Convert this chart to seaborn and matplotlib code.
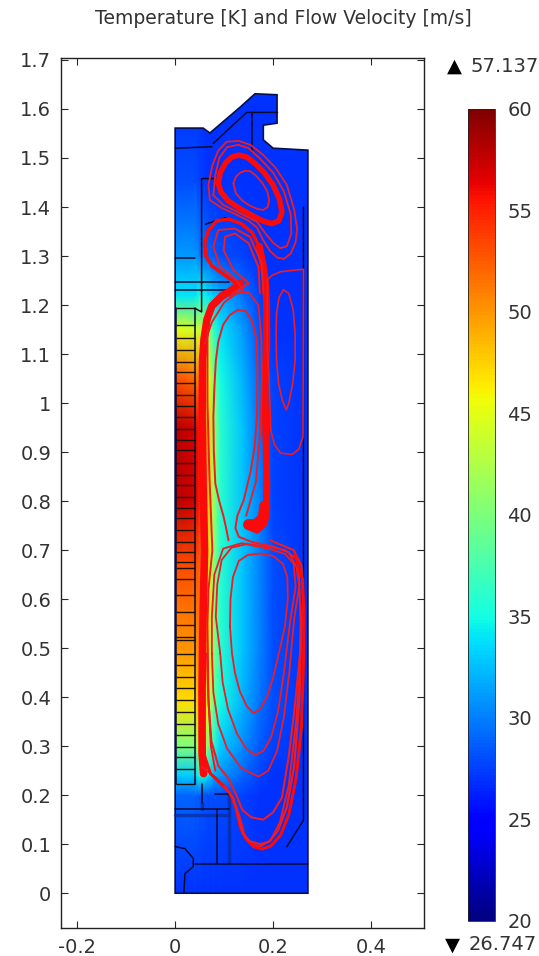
import numpy as np
import pandas as pd
import matplotlib.pyplot as plt
from matplotlib.patches import Polygon
import seaborn as sns

# === Temperature field ===
x_grid = [0, 0.041, 0.050, 0.068, 0.078, 0.092, 0.139, 0.173, 0.200, 0.272]
y_grid = [0, 0.20, 0.24, 0.30, 0.39, 0.50, 0.66, 0.80, 0.95, 1.05, 1.15, 1.22, 1.30, 1.45, 1.64]
temp_rows = [
    [27, 27, 27, 27, 27, 27, 27, 27, 27, 27],
    [29, 29, 28.5, 28, 28, 28, 27.5, 27, 27, 27],
    [33, 33, 36, 34, 32, 31, 29, 27.5, 27, 27],
    [40, 40, 44, 40, 36, 33, 30.5, 28.5, 27.5, 27],
    [47, 47, 49, 45, 39, 35, 32, 29.5, 28, 27],
    [50, 50, 51, 47, 41, 36, 32.5, 30, 28, 27],
    [53, 53, 52, 47, 41, 36, 32.5, 30, 28, 27],
    [58, 57, 55, 48, 42, 36, 32.5, 30, 27.5, 27],
    [58, 57, 55, 48, 42, 36, 32.5, 29.5, 27.5, 27],
    [53, 52, 50, 46, 40, 35, 32, 29, 27.5, 27],
    [45, 44, 44, 41, 37, 34, 31, 28, 27, 27],
    [34, 34, 35, 34, 33, 32, 29.5, 27.5, 27, 27],
    [31, 31, 30, 29, 28.5, 28, 27.5, 27, 27, 27],
    [28, 28, 27.5, 27, 27, 27, 27, 27, 27, 27],
    [27, 27, 27, 27, 27, 27, 27, 27, 27, 27],
]

# === Domain outline ===
outline_x = [0, 0.271, 0.271, 0.200, 0.180, 0.180, 0.208, 0.208, 0.163, 0.133, 0.071, 0.057, 0]
outline_y = [0, 0, 1.516, 1.520, 1.537, 1.567, 1.571, 1.629, 1.631, 1.604, 1.551, 1.561, 1.561]

# === Heater block separators ===
heater_y = [0.222, 0.254, 0.278, 0.299, 0.322, 0.346, 0.370, 0.394, 0.418, 0.441, 0.465, 0.489,
            0.516, 0.523, 0.547, 0.574, 0.608, 0.642, 0.663, 0.675, 0.697, 0.717, 0.741, 0.765,
            0.785, 0.809, 0.833, 0.853, 0.877, 0.904, 0.924, 0.948, 0.972, 0.993, 1.016, 1.040,
            1.064, 1.084, 1.108, 1.132, 1.159, 1.193]

# === Black subdomain edges (x list, y list) ===
edges = [
    ([0.002, 0.002], [0.222, 1.193]),
    ([0.041, 0.041], [0.222, 1.193]),
    ([0, 0.041], [1.295, 1.295]),
    ([0, 0.109], [1.248, 1.248]),
    ([0, 0.112], [1.231, 1.231]),
    ([0.041, 0.054, 0.054, 0.078], [1.193, 1.186, 1.458, 1.458]),
    ([0, 0.075], [1.520, 1.523]),
    ([0.078, 0.146, 0.209], [1.530, 1.593, 1.593]),
    ([0.156, 0.156], [1.593, 1.513]),
    ([0.062, 0.102, 0.139, 0.170, 0.186], [1.365, 1.378, 1.365, 1.330, 1.225]),
    ([0.262, 0.262, 0.228], [1.400, 0.149, 0.095]),
    ([0.054, 0.054], [0.222, 0.185]),
    ([0, 0.109], [0.172, 0.172]),
    ([0.082, 0.109], [0.202, 0.202]),
    ([0.085, 0.085], [0.169, 0.061]),
    ([0.041, 0.272], [0.059, 0.059]),
    ([0, 0.020, 0.037, 0.037, 0.020, 0.018], [0.095, 0.091, 0.071, 0.054, 0.040, 0.003]),
    ([0.150, 0.167, 0.184, 0.187], [0.748, 0.736, 0.752, 0.790]),
]
shade_edges = [
    ([0.109, 0.109], [0.202, 0.062]),
    ([0.054, 0.054], [0.185, 0.172]),
    ([0, 0.109], [0.160, 0.160]),
]

# === Flow velocity streamlines ===
upper_inner_x = [0.119, 0.124, 0.133, 0.143, 0.153, 0.165, 0.178, 0.188, 0.192, 0.189, 0.180, 0.168, 0.152, 0.137, 0.124, 0.119]
upper_inner_y = [1.448, 1.462, 1.470, 1.474, 1.473, 1.464, 1.449, 1.432, 1.414, 1.400, 1.394, 1.396, 1.403, 1.413, 1.428, 1.448]
upper_band_x = [0.088, 0.092, 0.103, 0.116, 0.130, 0.146, 0.163, 0.182, 0.200, 0.213, 0.218, 0.212, 0.197, 0.178, 0.155, 0.130, 0.108, 0.094, 0.088]
upper_band_y = [1.448, 1.470, 1.490, 1.502, 1.506, 1.502, 1.489, 1.470, 1.445, 1.416, 1.390, 1.372, 1.366, 1.372, 1.384, 1.398, 1.413, 1.430, 1.448]
upper_outer_x = [0.071, 0.095, 0.126, 0.150, 0.167, 0.180, 0.194, 0.208, 0.222, 0.236, 0.246, 0.249, 0.243, 0.228, 0.205, 0.180, 0.155, 0.130, 0.105, 0.088, 0.076, 0.068, 0.071]
upper_outer_y = [1.414, 1.398, 1.384, 1.372, 1.358, 1.332, 1.310, 1.297, 1.294, 1.305, 1.328, 1.355, 1.395, 1.445, 1.480, 1.506, 1.526, 1.535, 1.533, 1.515, 1.485, 1.445, 1.414]
upper_mid_x = [0.078, 0.099, 0.135, 0.167, 0.185, 0.201, 0.215, 0.228, 0.237, 0.236, 0.222, 0.200, 0.175, 0.150, 0.129, 0.106, 0.090, 0.082, 0.078]
upper_mid_y = [1.424, 1.404, 1.386, 1.370, 1.345, 1.326, 1.316, 1.320, 1.345, 1.385, 1.432, 1.470, 1.497, 1.520, 1.527, 1.522, 1.500, 1.465, 1.424]

left_wall_x = [0.133, 0.118, 0.095, 0.075, 0.065, 0.059, 0.056, 0.055, 0.057, 0.060, 0.057, 0.055, 0.055, 0.058]
left_wall_y = [1.244, 1.232, 1.218, 1.198, 1.170, 1.130, 1.088, 0.972, 0.836, 0.700, 0.564, 0.421, 0.285, 0.244]
left_wall2_x = [0.066, 0.066, 0.070, 0.074, 0.076, 0.068, 0.066, 0.068, 0.073, 0.082]
left_wall2_y = [1.150, 1.000, 0.850, 0.750, 0.700, 0.620, 0.550, 0.400, 0.300, 0.250]
channel_x = [0.150, 0.167, 0.180, 0.186, 0.187, 0.186, 0.183, 0.187, 0.187, 0.185, 0.180, 0.172]
channel_y = [0.748, 0.741, 0.752, 0.775, 0.830, 0.904, 1.040, 1.115, 1.190, 1.240, 1.280, 1.320]
channel_arc_x = [0.172, 0.157, 0.135, 0.110, 0.085, 0.068, 0.060, 0.063, 0.075, 0.100, 0.120, 0.135]
channel_arc_y = [1.320, 1.348, 1.366, 1.375, 1.372, 1.352, 1.326, 1.300, 1.280, 1.262, 1.248, 1.240]
tip_x = [0.150, 0.165, 0.180, 0.183]
tip_y = [0.752, 0.752, 0.765, 0.790]

swirl_a_x = [0.173, 0.170, 0.150, 0.122, 0.102, 0.099, 0.119, 0.143, 0.150, 0.133, 0.116]
swirl_a_y = [1.224, 1.278, 1.326, 1.346, 1.339, 1.312, 1.271, 1.251, 1.244, 1.234, 1.224]
swirl_b_x = [0.180, 0.177, 0.153, 0.122, 0.088, 0.078, 0.092, 0.122, 0.139, 0.112]
swirl_b_y = [1.224, 1.285, 1.339, 1.356, 1.353, 1.319, 1.278, 1.254, 1.230, 1.217]

central_x = [0.109, 0.104, 0.099, 0.090, 0.082, 0.079, 0.078, 0.080, 0.083, 0.088, 0.098, 0.112, 0.128, 0.145, 0.158, 0.166, 0.168, 0.167, 0.162, 0.154, 0.140, 0.127, 0.123, 0.130,
             0.156, 0.201, 0.232, 0.248, 0.254, 0.256, 0.254, 0.247, 0.232, 0.214, 0.195, 0.173, 0.155, 0.142, 0.132, 0.120, 0.105, 0.082, 0.054]
central_y = [0.720, 0.745, 0.768, 0.800, 0.836, 0.900, 0.972, 1.030, 1.085, 1.125, 1.160, 1.180, 1.190, 1.187, 1.165, 1.130, 1.074, 0.972, 0.910, 0.860, 0.802, 0.770, 0.745, 0.727,
             0.717, 0.707, 0.695, 0.665, 0.620, 0.550, 0.450, 0.350, 0.220, 0.145, 0.108, 0.095, 0.100, 0.118, 0.155, 0.190, 0.215, 0.237, 0.258]
central2_x = [0.060, 0.075, 0.100, 0.125, 0.150, 0.170, 0.176, 0.177, 0.175, 0.165, 0.145]
central2_y = [1.120, 1.165, 1.205, 1.224, 1.226, 1.200, 1.130, 1.050, 0.960, 0.840, 0.770]

lower_1_x = [0.112, 0.116, 0.122, 0.132, 0.146, 0.160, 0.174, 0.188, 0.200, 0.212, 0.224, 0.230, 0.229, 0.220, 0.200, 0.173, 0.148, 0.130, 0.118, 0.113, 0.112]
lower_1_y = [0.544, 0.490, 0.450, 0.412, 0.382, 0.367, 0.376, 0.402, 0.440, 0.490, 0.544, 0.600, 0.645, 0.672, 0.688, 0.693, 0.690, 0.678, 0.645, 0.600, 0.544]
lower_2_x = [0.092, 0.097, 0.108, 0.126, 0.145, 0.163, 0.180, 0.196, 0.210, 0.222, 0.235, 0.246, 0.242, 0.225, 0.190, 0.145, 0.115, 0.095, 0.086, 0.083, 0.092]
lower_2_y = [0.489, 0.430, 0.375, 0.326, 0.295, 0.282, 0.290, 0.318, 0.370, 0.450, 0.557, 0.625, 0.672, 0.692, 0.703, 0.712, 0.705, 0.680, 0.630, 0.564, 0.489]
lower_3_x = [0.075, 0.078, 0.088, 0.106, 0.135, 0.170, 0.190, 0.208, 0.222, 0.233, 0.243, 0.254, 0.250, 0.225, 0.185, 0.135, 0.098, 0.080, 0.075, 0.075]
lower_3_y = [0.489, 0.410, 0.345, 0.295, 0.255, 0.238, 0.250, 0.290, 0.360, 0.450, 0.560, 0.630, 0.680, 0.700, 0.708, 0.714, 0.703, 0.650, 0.564, 0.489]
lower_4_x = [0.065, 0.068, 0.074, 0.088, 0.108, 0.125, 0.137, 0.155, 0.180, 0.200, 0.218, 0.232, 0.243, 0.255, 0.261, 0.258, 0.242, 0.194]
lower_4_y = [0.489, 0.390, 0.310, 0.260, 0.235, 0.200, 0.170, 0.155, 0.150, 0.165, 0.195, 0.280, 0.370, 0.489, 0.600, 0.668, 0.700, 0.720]
lower_5_x = [0.054, 0.056, 0.060, 0.072, 0.095, 0.112, 0.124, 0.133, 0.145, 0.160, 0.177, 0.195, 0.215, 0.232, 0.247, 0.258, 0.262, 0.263, 0.260, 0.245]
lower_5_y = [0.489, 0.350, 0.280, 0.244, 0.222, 0.205, 0.175, 0.135, 0.110, 0.095, 0.090, 0.096, 0.118, 0.160, 0.235, 0.340, 0.470, 0.570, 0.640, 0.690]
lower_6_x = [0.100, 0.118, 0.128, 0.138, 0.152, 0.173, 0.192, 0.210, 0.228, 0.243, 0.254, 0.258]
lower_6_y = [0.218, 0.195, 0.160, 0.122, 0.106, 0.100, 0.105, 0.128, 0.175, 0.260, 0.400, 0.560]

right_loop_x = [0.207, 0.212, 0.221, 0.232, 0.241, 0.245, 0.245, 0.240, 0.232, 0.227, 0.219, 0.211, 0.207, 0.206, 0.207]
right_loop_y = [1.183, 1.215, 1.231, 1.224, 1.190, 1.142, 1.088, 1.040, 1.000, 0.986, 1.005, 1.040, 1.088, 1.140, 1.183]
right_big_x = [0.188, 0.197, 0.215, 0.262, 0.261, 0.252, 0.238, 0.215, 0.203, 0.195, 0.192, 0.188, 0.188]
right_big_y = [1.251, 1.260, 1.268, 1.273, 0.931, 0.905, 0.895, 0.898, 0.915, 0.945, 1.040, 1.115, 1.251]

# === Colorbar and tick labels ===
y_ticks = [0, 0.1, 0.2, 0.3, 0.4, 0.5, 0.6, 0.7, 0.8, 0.9, 1, 1.1, 1.2, 1.3, 1.4, 1.5, 1.6, 1.7]
x_ticks = [-0.2, 0, 0.2, 0.4]
bar_ticks = [20, 25, 30, 35, 40, 45, 50, 55, 60]
max_label = "57.137"
min_label = "26.747"

sns.set_style("white")
plt.rcParams['font.family'] = ['DejaVu Sans']

W, H = 539, 956
fig = plt.figure(figsize=(W / 100, H / 100), dpi=100)
ax = fig.add_axes([61 / W, 1 - 928 / H, 363 / W, 870 / H])
cax = fig.add_axes([468 / W, 1 - 921 / H, 27 / W, 812 / H])

# === Field, clipped to the domain ===
X, Y = np.meshgrid(x_grid, y_grid)
mesh = ax.pcolormesh(X, Y, np.array(temp_rows), cmap="jet", vmin=20, vmax=60,
                     shading="gouraud", zorder=1)
domain = Polygon(np.column_stack([outline_x, outline_y]), closed=True, facecolor="none",
                 edgecolor="#06104a", linewidth=1.2, zorder=2)
ax.add_patch(domain)
mesh.set_clip_path(domain)

# === Black edges ===
for ex, ey in shade_edges:
    ax.plot(ex, ey, color="#0a2a9a", linewidth=2.5, alpha=0.7, zorder=2)
ax.hlines(heater_y, 0.002, 0.041, color="#1a1208", linewidth=1.0, zorder=3)
for ex, ey in edges:
    ax.plot(ex, ey, color="#0a0a30", linewidth=1.1, zorder=3)

# === Streamlines ===
streams = [
    (upper_inner_x, upper_inner_y, 1.3), (upper_band_x, upper_band_y, 4.0),
    (upper_outer_x, upper_outer_y, 1.3), (upper_mid_x, upper_mid_y, 1.3),
    (left_wall_x, left_wall_y, 5.5), (left_wall2_x, left_wall2_y, 1.4),
    (channel_x, channel_y, 5.0), (channel_arc_x, channel_arc_y, 2.6), (tip_x, tip_y, 8.0),
    (swirl_a_x, swirl_a_y, 1.4), (swirl_b_x, swirl_b_y, 1.4),
    (central_x, central_y, 1.4), (central2_x, central2_y, 1.3),
    (lower_1_x, lower_1_y, 1.3), (lower_2_x, lower_2_y, 1.3),
    (lower_3_x, lower_3_y, 1.3), (lower_4_x, lower_4_y, 1.5),
    (lower_5_x, lower_5_y, 2.2), (lower_6_x, lower_6_y, 1.6),
    (right_loop_x, right_loop_y, 1.2), (right_big_x, right_big_y, 1.2),
]
for sx, sy, lw in streams:
    line_df = pd.DataFrame({"x": sx, "y": sy})
    sns.lineplot(data=line_df, x="x", y="y", sort=False, estimator=None, ax=ax,
                 color="#ee1c24" if lw < 2 else "#fa0a0a", linewidth=lw, zorder=4,
                 solid_joinstyle="round", solid_capstyle="round")

# === Axes ===
ax.set_xlim(-0.233, 0.508)
ax.set_ylim(-0.071, 1.704)
ax.set_xlabel("")
ax.set_ylabel("")
ax.set_xticks(x_ticks)
ax.set_xticklabels(["-0.2", "0", "0.2", "0.4"])
ax.set_yticks(y_ticks)
ax.set_yticklabels([f"{v:g}" for v in y_ticks])
ax.tick_params(direction="in", length=5, width=0.8, top=True, right=True, bottom=True, left=True,
               labelsize=14, labelcolor="#333333", pad=7)
for spine in ax.spines.values():
    spine.set_color("#222222")
    spine.set_linewidth(1.0)
fig.text(283 / W, 1 - 18 / H, "Temperature [K] and Flow Velocity [m/s]", ha="center", va="center",
         fontsize=13.5, color="#333333")

# === Colorbar ===
cb = fig.colorbar(mesh, cax=cax)
cb.set_ticks(bar_ticks)
cax.tick_params(length=0, labelsize=14, labelcolor="#333333", pad=9)
cb.outline.set_edgecolor("#222222")
cb.outline.set_linewidth(0.6)

fig.text(454 / W, 1 - 66 / H, "\u25b2", ha="center", va="center", fontsize=14, color="black")
fig.text(470 / W, 1 - 66 / H, max_label, ha="left", va="center", fontsize=14, color="#333333")
fig.text(452 / W, 1 - 945 / H, "\u25bc", ha="center", va="center", fontsize=14, color="black")
fig.text(469 / W, 1 - 945 / H, min_label, ha="left", va="center", fontsize=14, color="#333333")

fig.savefig("out.png", dpi=100)
